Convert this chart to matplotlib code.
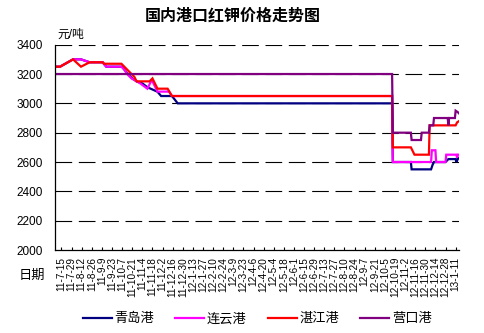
import datetime as dt

import matplotlib
matplotlib.use("Agg")
import matplotlib.pyplot as plt

plt.rcParams["font.family"] = ["Liberation Sans", "Noto Sans CJK SC"]

# --- data --------------------------------------------------------------
qd_dates = ["2011-07-06", "2011-07-13", "2011-07-31", "2011-08-11", "2011-08-23",
            "2011-09-10", "2011-09-15", "2011-10-07", "2011-10-14", "2011-10-21",
            "2011-10-28", "2011-11-04", "2011-11-11", "2011-11-25", "2011-11-30",
            "2011-12-15", "2011-12-23", "2012-10-15", "2012-10-16", "2012-11-10",
            "2012-11-11", "2012-12-08", "2012-12-10", "2012-12-12", "2012-12-28",
            "2013-01-01", "2013-01-11", "2013-01-12", "2013-01-14", "2013-01-16"]
qd_vals = [3250, 3250, 3300, 3300, 3280,
           3280, 3250, 3250, 3205, 3170,
           3147, 3136, 3110, 3079, 3050,
           3050, 3000, 3000, 2600, 2600,
           2550, 2550, 2580, 2600, 2600,
           2620, 2620, 2600, 2620, 2630]

lyg_dates = ["2011-07-06", "2011-07-13", "2011-07-31", "2011-08-11", "2011-08-23",
             "2011-09-10", "2011-09-15", "2011-10-06", "2011-10-10", "2011-10-14",
             "2011-10-20", "2011-10-31", "2011-11-11", "2011-11-17", "2011-11-25",
             "2011-12-11", "2011-12-15", "2012-10-15", "2012-10-16", "2012-12-08",
             "2012-12-09", "2012-12-14", "2012-12-15", "2012-12-28", "2012-12-29",
             "2013-01-12", "2013-01-13", "2013-01-14", "2013-01-16"]
lyg_vals = [3250, 3250, 3300, 3300, 3280,
            3280, 3250, 3250, 3230, 3200,
            3170, 3140, 3100, 3160, 3080,
            3080, 3050, 3050, 2600, 2600,
            2680, 2680, 2600, 2600, 2650,
            2650, 2630, 2650, 2650]

zj_dates = ["2011-07-06", "2011-07-13", "2011-07-31", "2011-08-11", "2011-08-23",
            "2011-09-10", "2011-09-12", "2011-10-06", "2011-10-10", "2011-10-14",
            "2011-10-20", "2011-10-24", "2011-10-27", "2011-11-14", "2011-11-18",
            "2011-11-25", "2011-12-09", "2011-12-15", "2012-10-15", "2012-10-16",
            "2012-11-10", "2012-11-12", "2012-11-15", "2012-12-05", "2012-12-06",
            "2013-01-11", "2013-01-13", "2013-01-16"]
zj_vals = [3250, 3250, 3300, 3250, 3280,
           3280, 3270, 3270, 3250, 3230,
           3200, 3180, 3150, 3150, 3170,
           3100, 3100, 3050, 3050, 2700,
           2700, 2680, 2650, 2650, 2850,
           2850, 2870, 2880]

yk_dates = ["2011-07-06", "2012-10-15", "2012-10-16", "2012-11-10", "2012-11-11",
            "2012-11-24", "2012-11-25", "2012-12-05", "2012-12-06", "2012-12-11",
            "2012-12-12", "2012-12-31", "2013-01-01", "2013-01-02", "2013-01-10",
            "2013-01-11", "2013-01-14", "2013-01-16"]
yk_vals = [3200, 3200, 2800, 2800, 2750,
           2750, 2800, 2800, 2850, 2850,
           2900, 2900, 2850, 2900, 2900,
           2950, 2940, 2930]

series = [
    ("青岛港", qd_dates, qd_vals, "#000080"),
    ("连云港", lyg_dates, lyg_vals, "#FF00FF"),
    ("湛江港", zj_dates, zj_vals, "#FF0000"),
    ("营口港", yk_dates, yk_vals, "#800080"),
]

y_ticks = [2000, 2200, 2400, 2600, 2800, 3000, 3200, 3400]
label_start = dt.date(2011, 7, 15)
label_end = dt.date(2013, 1, 11)


def to_date(s):
    return dt.datetime.strptime(s, "%Y-%m-%d")


fig = plt.figure(figsize=(4.85, 3.33), dpi=100)
ax = fig.add_axes([0.1134, 0.2492, 0.8320, 0.6166])

handles = []
for name, dates, vals, color in series:
    h, = ax.plot([to_date(d) for d in dates], vals, color=color, lw=1.6,
                 solid_joinstyle="miter", label=name)
    handles.append(h)

ax.set_ylim(2000, 3400)
ax.set_yticks(y_ticks)
ax.set_xlim(dt.datetime(2011, 7, 6), dt.datetime(2013, 1, 15))

# labels every two weeks
ticks = []
d = label_start
while d <= label_end:
    ticks.append(d)
    d += dt.timedelta(days=14)
ax.set_xticks(ticks)
ax.set_xticklabels([f"{t.year % 100}-{t.month}-{t.day}" for t in ticks],
                   rotation=90, va="top", fontsize=7.2)

for y in y_ticks[1:]:
    ax.axhline(y, color="black", lw=0.8, ls=(0, (15, 6)), zorder=0)

for side in ("top", "right"):
    ax.spines[side].set_visible(False)
ax.spines["left"].set_linewidth(0.9)
ax.spines["bottom"].set_linewidth(0.9)
ax.tick_params(axis="y", length=0, pad=9, labelsize=8.5)
ax.tick_params(axis="x", direction="in", length=2.5, pad=5)

fig.text(0.48, 0.952, "国内港口红钾价格走势图", ha="center", va="center",
         fontsize=11.5, fontweight="bold")
fig.text(0.118, 0.895, "元/吨", ha="left", va="center", fontsize=8.5)
fig.text(0.066, 0.172, "日期", ha="center", va="center", fontsize=9.5)

fig.legend(handles=handles, loc="center", bbox_to_anchor=(0.53, 0.042),
           ncol=4, frameon=False, fontsize=9.5, handlelength=2.2,
           handletextpad=0.2, columnspacing=1.6)

fig.savefig("out.png", dpi=100)
